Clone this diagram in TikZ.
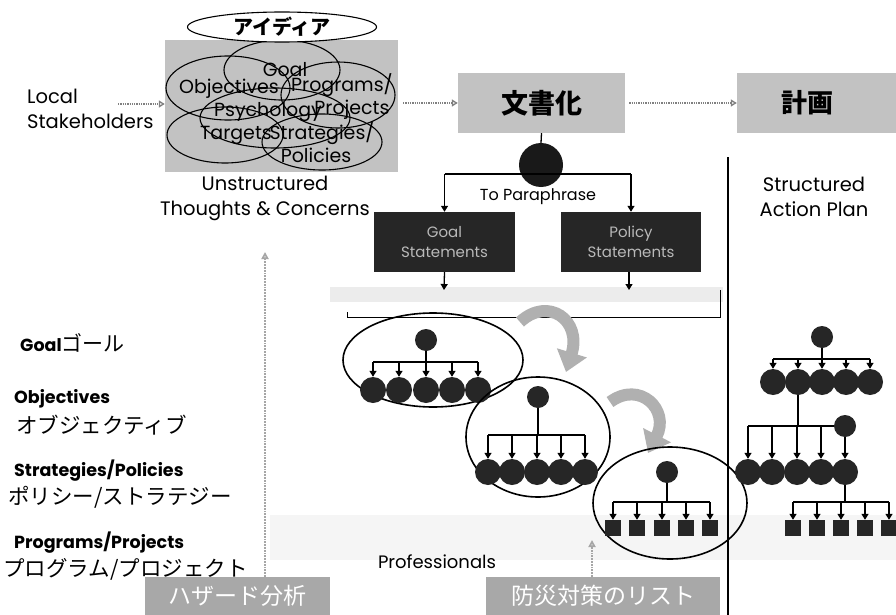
\documentclass[tikz,border=0pt]{standalone}
\usepackage{fontspec}
\setmainfont{Poppins}
\newfontfamily\cjk{Noto Sans CJK JP}
\usetikzlibrary{arrows.meta,shapes.geometric}
\tikzset{
  gbox/.style={fill=gray!48, inner sep=0pt},
  darkbox/.style={fill=black!85, text=gray!55, inner sep=0pt, align=center, font=\fontsize{15}{20}\selectfont},
  hbox/.style={fill=gray!68, text=white, inner sep=0pt, font=\cjk\fontsize{23}{25}\selectfont},
  dotarrow/.style={gray, densely dotted, line width=1.3pt, -{Triangle[open,length=6pt,width=7pt]}},
  tline/.style={line width=1.3pt, black},
  tarrow/.style={tline, -{Triangle[length=6pt,width=7pt]}},
  bigc/.style={circle, fill=black!85, minimum size=26pt, inner sep=0pt},
  rootc/.style={circle, fill=black!85, minimum size=22pt, inner sep=0pt},
  sqn/.style={rectangle, fill=black!85, minimum size=16pt, inner sep=0pt},
  lbl/.style={font=\fontsize{19.5}{25}\selectfont, align=center, inner sep=0pt},
  inl/.style={font=\fontsize{19}{20}\selectfont, inner sep=0pt},
  ell/.style={line width=1.1pt, black},
  curvy/.style={line width=12pt, gray!62, -{Triangle[length=20pt,width=30pt]}},
  grayup/.style={gray!70, line width=1.8pt, densely dotted, -{Triangle[open,length=7pt,width=7pt]}},
  bl/.style={font=\bfseries\fontsize{17.5}{19}\selectfont, anchor=west, inner sep=0pt},
  jl/.style={font=\cjk\fontsize{21.5}{23}\selectfont, anchor=west, inner sep=0pt}
}
\begin{document}
\begin{tikzpicture}[x=1pt,y=-1pt]
\useasboundingbox (0,0) rectangle (896,615);
\fill[white] (0,0) rectangle (896,615);
% faint band
\fill[gray!8] (270,515) rectangle (896,560);

% idea cluster
\node[gbox, minimum width=233pt, minimum height=132pt] (idea) at (281.5,106) {};
\draw[ell] (282,70) ellipse [x radius=58, y radius=30];
\draw[ell] (228,88) ellipse [x radius=62, y radius=32];
\draw[ell] (338,95) ellipse [x radius=57, y radius=33];
\draw[ell] (275,118) ellipse [x radius=75, y radius=30];
\draw[ell] (225,135) ellipse [x radius=58, y radius=28];
\draw[ell] (322,142) ellipse [x radius=60, y radius=28];
\node[inl] (tgoal) at (285,70) {Goal};
\node[inl] (tobj) at (229,89) {Objectives};
\node[inl] (tprog) at (342,85) {Programs/};
\node[inl] (tpsy) at (268,112) {Psychology};
\node[inl] (tproj) at (352,110) {Projects};
\node[inl] (ttar) at (236,135) {Targets};
\node[inl] (tstr) at (322,133) {Strategies/};
\node[inl] (tpol) at (316,155) {Policies};
\node[ellipse, draw, line width=1.1pt, fill=white, minimum width=189pt, minimum height=30pt, inner sep=0pt,
      font=\cjk\bfseries\fontsize{20}{22}\selectfont] (aidea) at (282,27) {アイディア};

\node[lbl, anchor=north west, align=left] (ls) at (27,89) {Local\\Stakeholders};
\node[lbl] (ut) at (265,198) {Unstructured\\Thoughts \& Concerns};

% documentation / plan
\node[gbox, minimum width=167pt, minimum height=60pt, font=\cjk\bfseries\fontsize{27}{29}\selectfont] (doc) at (541.5,103) {文書化};
\node[gbox, minimum width=165pt, minimum height=60pt] (plan) at (819.5,103) {};
\node[font=\cjk\bfseries\fontsize{26}{28}\selectfont, inner sep=0pt] (plantxt) at (807,103) {計画};

\coordinate (a1s) at (118,104);
\draw[dotarrow] (a1s) -- (idea.west |- a1s);
\coordinate (a2s) at (403,103);
\draw[dotarrow] (a2s) -- (doc.west);
\draw[dotarrow] (doc.east) ++(4,0) coordinate (a3s) -- (plan.west);

% paraphrase
\node[circle, fill=black!90, minimum size=44pt, inner sep=0pt] (sp) at (541,165) {};
\draw[tline] (doc.south) -- (sp.north);
\node[darkbox, minimum width=141pt, minimum height=60pt] (gs) at (444.5,242) {Goal\\Statements};
\node[darkbox, minimum width=140pt, minimum height=60pt] (ps) at (631,242) {Policy\\Statements};
\coordinate (spb) at (541,174);
\draw[tline] (gs.north |- spb) -- (ps.north |- spb);
\draw[tarrow] (gs.north |- spb) -- (gs.north);
\draw[tarrow] (ps.north |- spb) -- (ps.north);
\node[font=\fontsize{16}{18}\selectfont, inner sep=0pt] (para) at (538,197) {To Paraphrase};

\fill[gray!15] (330,287) rectangle (723,302);
\coordinate (gsb) at (444,290);
\coordinate (psb) at (629,290);
\draw[tarrow] (gs.south) -- (gsb);
\draw[tarrow] (ps.south -| psb) -- (psb);
\draw[line width=1pt] (347,312) -- (347,317) -- (720,317) -- (720,290);

% divider
\draw[line width=1.4pt] (728,157) -- (728,615);
\node[lbl] (sap) at (814,197) {Structured\\Action Plan};

% curved arrows
\draw[curvy] (520,322) .. controls (548,296) and (582,320) .. (566,372);
\draw[curvy] (610,402) .. controls (640,380) and (670,410) .. (648,453);

% tree 1
\draw[ell, line width=1.6pt] (433,360) ellipse [x radius=90, y radius=47];
\node[rootc] (r1) at (426,340) {};
\coordinate (b1) at (426,362);
\foreach \i/\x in {1/373,2/399,3/426,4/452,5/478} \node[bigc] (a\i) at (\x,390) {};
\draw[tline] (r1) -- (b1);
\draw[tline] (a1 |- b1) -- (a5 |- b1);
\foreach \i in {1,...,5} \draw[tarrow] (a\i |- b1) -- (a\i.north);

% tree 2
\draw[ell, line width=1.6pt] (538,437) ellipse [x radius=72, y radius=60];
\node[rootc] (r2) at (538,397) {};
\coordinate (b2) at (538,435);
\foreach \i/\x in {1/488,2/512,3/537,4/561,5/585} \node[bigc] (c\i) at (\x,472) {};
\draw[tline] (r2) -- (b2);
\draw[tline] (c1 |- b2) -- (c5 |- b2);
\foreach \i in {1,...,5} \draw[tarrow] (c\i |- b2) -- (c\i.north);

% tree 3
\draw[ell, line width=1.6pt] (670,503) ellipse [x radius=77, y radius=56];
\node[rootc] (r3) at (667,472) {};
\coordinate (b3) at (667,502);
\foreach \i/\x in {1/613,2/637,3/662,4/686,5/710} \node[sqn] (s\i) at (\x,528) {};
\draw[tline] (r3) -- (b3);
\draw[tline] (s1 |- b3) -- (s5 |- b3);
\foreach \i in {1,...,5} \draw[tarrow] (s\i |- b3) -- (s\i.north);

% structured plan tree
\node[rootc] (pr) at (822,337) {};
\coordinate (pb1) at (822,359);
\foreach \i/\x in {1/773,2/798,3/822,4/846,5/870} \node[bigc] (p\i) at (\x,382) {};
\draw[tline] (pr) -- (pb1);
\draw[tline] (p1 |- pb1) -- (p5 |- pb1);
\foreach \i in {1,...,5} \draw[tarrow] (p\i |- pb1) -- (p\i.north);
\node[rootc] (pr2) at (845,426) {};
\coordinate (pb2) at (798,426);
\foreach \i/\x in {1/748,2/772,3/797,4/821,5/845} \node[bigc] (q\i) at (\x,472) {};
\draw[tline] (p2) -- (pb2);
\draw[tline] (q1 |- pb2) -- (pr2);
\foreach \i in {1,...,4} \draw[tarrow] (q\i |- pb2) -- (q\i.north);
\draw[tarrow] (pr2) -- (q5.north);
\coordinate (pb3) at (845,502);
\foreach \i/\x in {1/793,2/817,3/841,4/865,5/889} \node[sqn] (u\i) at (\x,528) {};
\draw[tline] (q5) -- (pb3);
\draw[tline] (u1 |- pb3) -- (u5 |- pb3);
\foreach \i in {1,...,5} \draw[tarrow] (u\i |- pb3) -- (u\i.north);

% left labels
\node[bl] (lg) at (20,343) {Goal{\cjk\mdseries\fontsize{21}{22}\selectfont ゴール}};
\node[bl] (lo) at (14,399) {Objectives};
\node[jl] (loj) at (16,425) {オブジェクティブ};
\node[bl] (lsp) at (14,471) {Strategies/Policies};
\node[jl] (lspj) at (8,497) {ポリシー/ストラテジー};
\node[bl] (lpp) at (14,543) {Programs/Projects};
\node[jl] (lppj) at (3,569) {プログラム/プロジェクト};

% bottom boxes
\node[hbox, minimum width=185pt, minimum height=38pt] (haz) at (237.5,596) {ハザード分析};
\node[hbox, minimum width=234pt, minimum height=38pt] (bou) at (603,596) {防災対策のリスト};
\coordinate (vtop) at (265,252);
\draw[grayup] (haz.north -| vtop) -- (vtop);
\coordinate (btop) at (592,540);
\draw[grayup] (bou.north -| btop) -- (btop);
\node[font=\fontsize{18}{20}\selectfont, inner sep=0pt] (prof) at (437,562) {Professionals};
\end{tikzpicture}
\end{document}
